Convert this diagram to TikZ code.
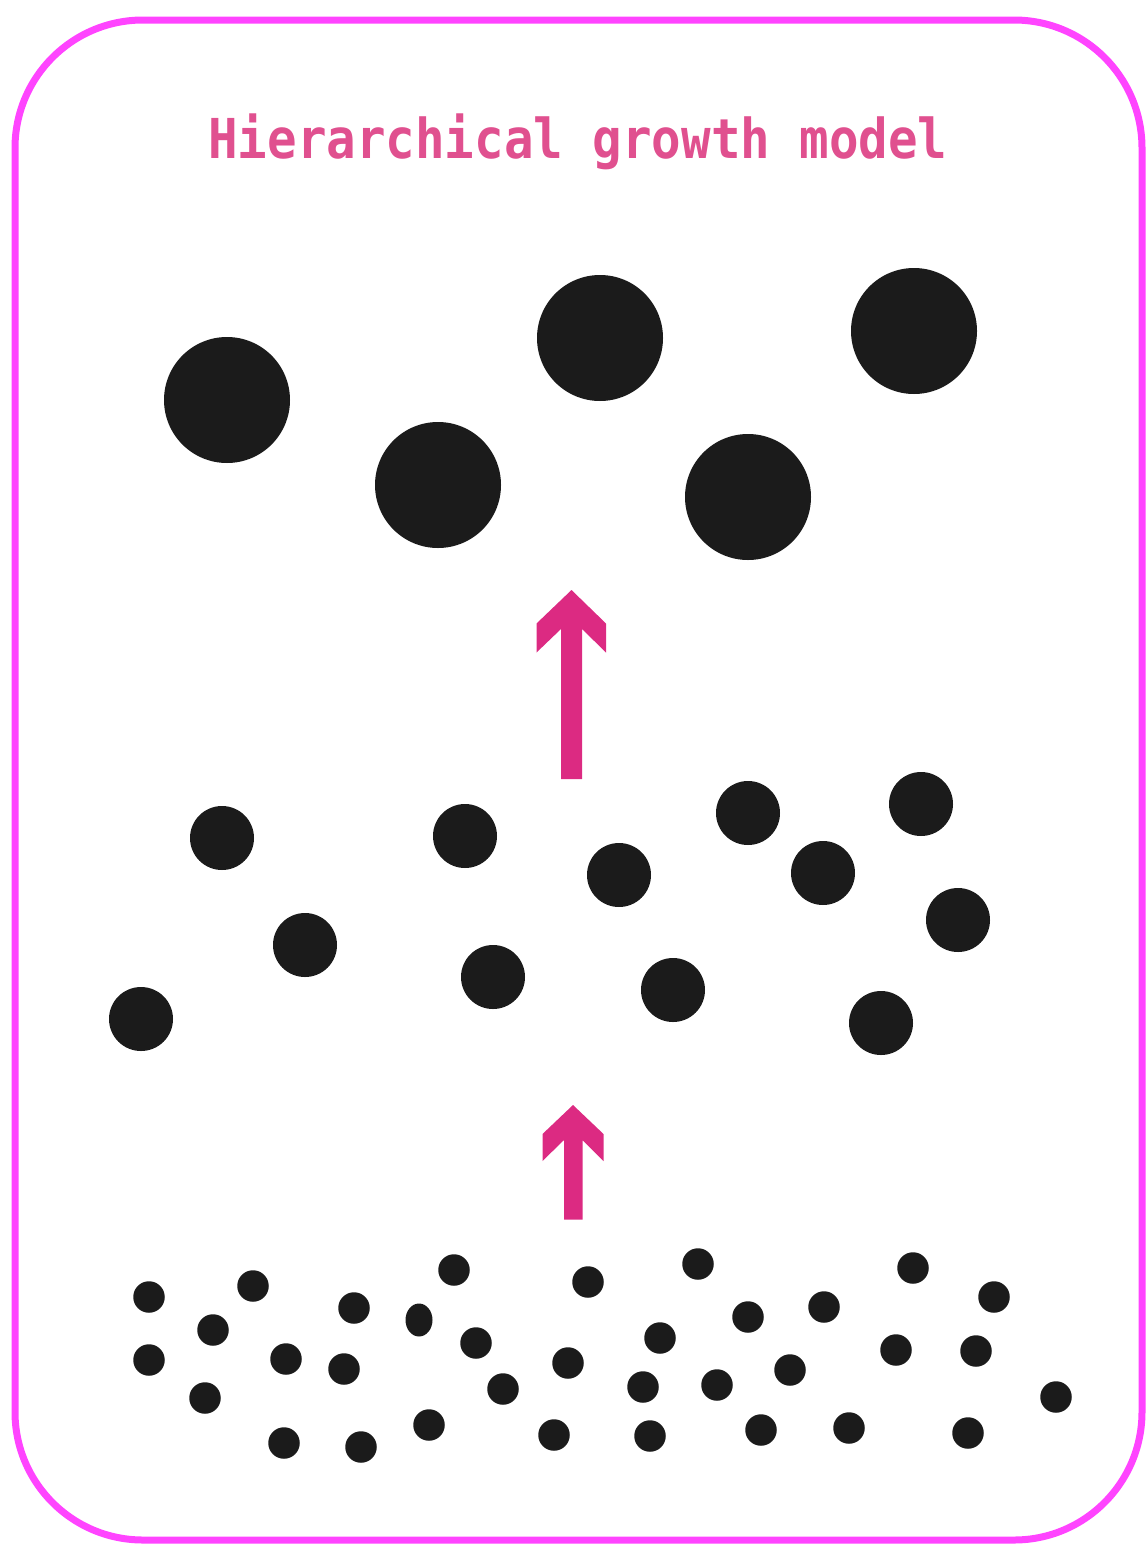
\documentclass[tikz,border=0pt]{standalone}
\usepackage{fontspec}
\newfontfamily\titlefont{DejaVu Sans Mono}
\usetikzlibrary{shapes.geometric}
\definecolor{dotcol}{HTML}{1B1B1B}
\definecolor{titlecol}{HTML}{E0508F}
\definecolor{arrowcol}{HTML}{DC2A82}
\definecolor{framecol}{HTML}{FF44FF}
\tikzset{
  dotbase/.style={circle,fill=dotcol,draw=none,inner sep=0pt},
  bigdot/.style={dotbase,minimum size=126pt},
  middot/.style={dotbase,minimum size=64pt},
  smalldot/.style={dotbase,minimum size=31.5pt},
  ovaldot/.style={ellipse,fill=dotcol,draw=none,inner sep=0pt,minimum width=27pt,minimum height=33pt},
  arrowshape/.style={fill=arrowcol,draw=none},
  framestroke/.style={draw=framecol,line width=7pt},
  titletext/.style={text=titlecol,font=\titlefont\bfseries\fontsize{55}{58}\selectfont,anchor=base,inner sep=0pt,xscale=0.893}
}
\begin{document}
\begin{tikzpicture}[x=1pt,y=-1pt]
\useasboundingbox (0,0) rectangle (1148,1547);
% frame
\draw[framestroke,rounded corners=128pt] (15,20) rectangle (1142,1540);
% title
\node[titletext] (title) at (578,158) {Hierarchical growth model};
% big dots
\node[bigdot] (b1) at (227,400) {};
\node[bigdot] (b2) at (438,485) {};
\node[bigdot] (b3) at (600,338) {};
\node[bigdot] (b4) at (748,497) {};
\node[bigdot] (b5) at (914,331) {};
% arrows
\fill[arrowshape] (571.5,590) -- (606,623.5) -- (606,652.5) -- (582,629) -- (582,779)
  -- (561,779) -- (561,629) -- (536.5,652.5) -- (536.5,623.5) -- cycle;
\fill[arrowshape] (573,1105) -- (603.5,1134) -- (603.5,1161) -- (582.5,1140) -- (582.5,1219.5)
  -- (564,1219.5) -- (564,1140) -- (542.5,1161) -- (542.5,1134) -- cycle;
% medium dots
\node[middot] (m1) at (222,838) {};
\node[middot] (m2) at (305,945) {};
\node[middot] (m3) at (141,1019) {};
\node[middot] (m4) at (465,836) {};
\node[middot] (m5) at (493,977) {};
\node[middot] (m6) at (619,875) {};
\node[middot] (m7) at (748,813) {};
\node[middot] (m8) at (673,990) {};
\node[middot] (m9) at (823,873) {};
\node[middot] (m10) at (921,804) {};
\node[middot] (m11) at (958,920) {};
\node[middot] (m12) at (881,1023) {};
% small dots
\node[smalldot] (s1) at (149,1297) {};
\node[smalldot] (s2) at (253,1286) {};
\node[smalldot] (s3) at (213,1330) {};
\node[smalldot] (s4) at (149,1360) {};
\node[smalldot] (s5) at (205,1398) {};
\node[smalldot] (s6) at (286,1359) {};
\node[smalldot] (s7) at (284,1443) {};
\node[smalldot] (s8) at (354,1308) {};
\node[smalldot] (s9) at (344,1369) {};
\node[smalldot] (s10) at (361,1447) {};
\node[ovaldot] (s11) at (419,1320) {};
\node[smalldot] (s12) at (454,1270) {};
\node[smalldot] (s13) at (476,1343) {};
\node[smalldot] (s14) at (503,1389) {};
\node[smalldot] (s15) at (429,1425) {};
\node[smalldot] (s16) at (568,1363) {};
\node[smalldot] (s17) at (588,1282) {};
\node[smalldot] (s18) at (554,1435) {};
\node[smalldot] (s19) at (698,1264) {};
\node[smalldot] (s20) at (660,1338) {};
\node[smalldot] (s21) at (643,1387) {};
\node[smalldot] (s22) at (650,1436) {};
\node[smalldot] (s23) at (748,1317) {};
\node[smalldot] (s24) at (717,1385) {};
\node[smalldot] (s25) at (761,1430) {};
\node[smalldot] (s26) at (790,1370) {};
\node[smalldot] (s27) at (824,1307) {};
\node[smalldot] (s28) at (896,1350) {};
\node[smalldot] (s29) at (913,1268) {};
\node[smalldot] (s30) at (849,1428) {};
\node[smalldot] (s31) at (994,1297) {};
\node[smalldot] (s32) at (976,1351) {};
\node[smalldot] (s33) at (1056,1397) {};
\node[smalldot] (s34) at (968,1433) {};
\end{tikzpicture}
\end{document}
